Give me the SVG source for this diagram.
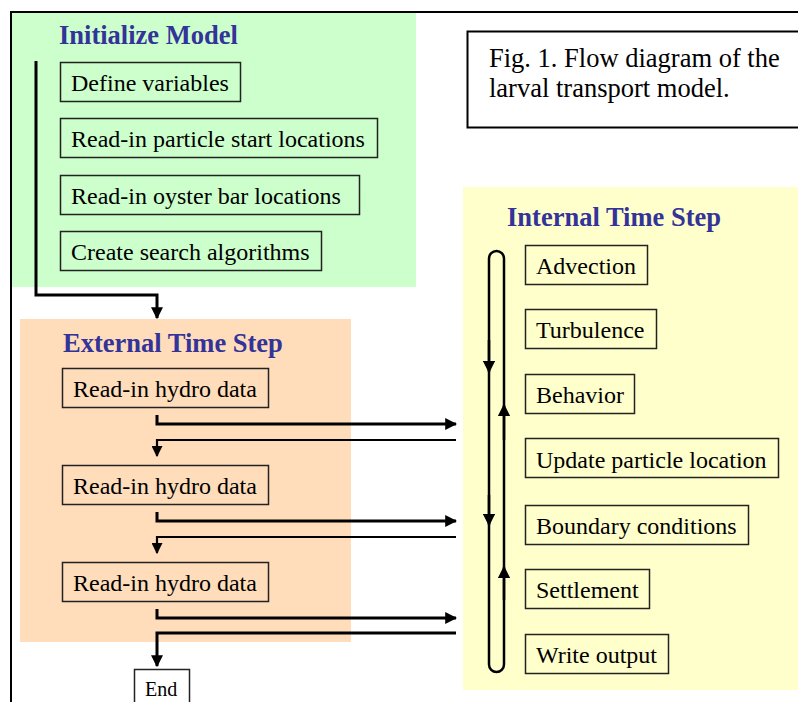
<svg xmlns="http://www.w3.org/2000/svg" width="798" height="702" viewBox="0 0 798 702">
  <style>
    .panel-title { font-family: "Liberation Serif", "Times New Roman", serif; font-weight: bold; font-size: 26.5px; fill: #333399; }
    .box { fill: none; stroke: #222; stroke-width: 1.5; }
    .label { font-family: "Liberation Serif", "Times New Roman", serif; font-size: 24px; fill: #000; }
    .caption { font-family: "Liberation Serif", "Times New Roman", serif; font-size: 26.5px; fill: #000; }
    .flow { fill: none; stroke: #000; stroke-width: 3; }
    .back { fill: none; stroke: #000; stroke-width: 2.2; }
    .cycle { fill: none; stroke: #000; stroke-width: 2.5; }
  </style>
  <defs>
    <marker id="head" viewBox="0 0 10 10" refX="9" refY="5" markerWidth="4" markerHeight="4" orient="auto" markerUnits="strokeWidth">
      <path d="M0,0 L10,5 L0,10 z" fill="#000"/>
    </marker>
    <marker id="headSmall" viewBox="0 0 10 10" refX="9" refY="5" markerWidth="5" markerHeight="5" orient="auto" markerUnits="strokeWidth">
      <path d="M0,0 L10,5 L0,10 z" fill="#000"/>
    </marker>
  </defs>

  <rect width="798" height="702" fill="#fff"/>

  <!-- background panels -->
  <rect x="12" y="13" width="404" height="274" fill="#CCFFCC"/>
  <rect x="20" y="319" width="331" height="323" fill="#FFDDBB"/>
  <rect x="463" y="187" width="335" height="503" fill="#FFFFCC"/>

  <!-- page frame -->
  <path d="M11,702 V12 H798" fill="none" stroke="#000" stroke-width="2"/>

  <!-- caption -->
  <g id="caption">
    <rect x="467.5" y="31.5" width="335" height="96" fill="#fff" stroke="#000" stroke-width="2"/>
    <text class="caption" x="489" y="67">Fig. 1. Flow diagram of the</text>
    <text class="caption" x="489" y="97">larval transport model.</text>
  </g>

  <!-- Initialize Model -->
  <g id="initialize-model">
    <text class="panel-title" x="59" y="44">Initialize Model</text>
    <g id="define-variables">
      <rect class="box" x="60.5" y="62.5" width="180" height="39"/>
      <text class="label" x="71" y="91">Define variables</text>
    </g>
    <g id="read-start-locations">
      <rect class="box" x="60.5" y="118.5" width="317" height="39"/>
      <text class="label" x="71" y="147">Read-in particle start locations</text>
    </g>
    <g id="read-oyster-bars">
      <rect class="box" x="60.5" y="175.5" width="299" height="39"/>
      <text class="label" x="71" y="204">Read-in oyster bar locations</text>
    </g>
    <g id="create-search">
      <rect class="box" x="60.5" y="231.5" width="261" height="39"/>
      <text class="label" x="71" y="260">Create search algorithms</text>
    </g>
  </g>

  <!-- External Time Step -->
  <g id="external-time-step">
    <text class="panel-title" x="63" y="352">External Time Step</text>
    <g id="hydro-1">
      <rect class="box" x="62.5" y="368.5" width="206" height="39"/>
      <text class="label" x="73" y="397">Read-in hydro data</text>
    </g>
    <g id="hydro-2">
      <rect class="box" x="62.5" y="465.5" width="206" height="39"/>
      <text class="label" x="73" y="494">Read-in hydro data</text>
    </g>
    <g id="hydro-3">
      <rect class="box" x="62.5" y="562.5" width="206" height="39"/>
      <text class="label" x="73" y="591">Read-in hydro data</text>
    </g>
  </g>

  <g id="end">
    <rect class="box" x="134.5" y="669.5" width="55" height="40" fill="#fff"/>
    <text class="label" x="145" y="696" style="font-size:20px">End</text>
  </g>

  <!-- Internal Time Step -->
  <g id="internal-time-step">
    <text class="panel-title" x="507" y="226">Internal Time Step</text>
    <g id="advection">
      <rect class="box" x="525.5" y="245.5" width="122" height="39"/>
      <text class="label" x="536" y="274">Advection</text>
    </g>
    <g id="turbulence">
      <rect class="box" x="525.5" y="309.5" width="131" height="39"/>
      <text class="label" x="536" y="338">Turbulence</text>
    </g>
    <g id="behavior">
      <rect class="box" x="525.5" y="374.5" width="109" height="39"/>
      <text class="label" x="536" y="403">Behavior</text>
    </g>
    <g id="update-location">
      <rect class="box" x="525.5" y="438.5" width="253" height="39"/>
      <text class="label" x="536" y="468">Update particle location</text>
    </g>
    <g id="boundary-conditions">
      <rect class="box" x="525.5" y="505.5" width="223" height="39"/>
      <text class="label" x="536" y="534">Boundary conditions</text>
    </g>
    <g id="settlement">
      <rect class="box" x="525.5" y="569.5" width="124" height="39"/>
      <text class="label" x="536" y="598">Settlement</text>
    </g>
    <g id="write-output">
      <rect class="box" x="525.5" y="634.5" width="143" height="39"/>
      <text class="label" x="536" y="663">Write output</text>
    </g>
  </g>

  <!-- connectors -->
  <g id="connectors">
    <!-- initialization into the external loop -->
    <path class="flow" d="M36,61 V295 H157 V318" marker-end="url(#head)"/>

    <!-- hydro steps out to the internal loop and back -->
    <path class="flow" d="M157,415 V424 H456" marker-end="url(#head)"/>
    <path class="back" d="M456,440 H157 V456" marker-end="url(#headSmall)"/>
    <path class="flow" d="M157,512 V521 H456" marker-end="url(#head)"/>
    <path class="back" d="M456,537 H157 V553" marker-end="url(#headSmall)"/>
    <path class="flow" d="M157,609 V618 H456" marker-end="url(#head)"/>
    <path class="flow" d="M456,633 H157 V666" marker-end="url(#head)"/>

    <!-- internal cycle -->
    <rect class="cycle" x="489" y="251" width="15" height="421" rx="7.5" ry="7.5"/>
    <path class="cycle" d="M489,340 V372" marker-end="url(#headSmall)"/>
    <path class="cycle" d="M489,495 V525" marker-end="url(#headSmall)"/>
    <path class="cycle" d="M504,440 V405" marker-end="url(#headSmall)"/>
    <path class="cycle" d="M504,600 V567" marker-end="url(#headSmall)"/>
  </g>
</svg>
